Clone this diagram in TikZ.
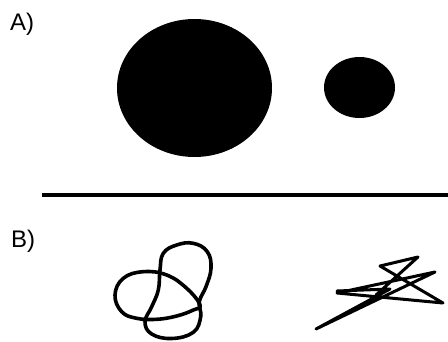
\documentclass[tikz,border=0pt]{standalone}
\usepackage{fontspec}
\setmainfont{Liberation Sans}
\usetikzlibrary{positioning}

\begin{document}
\begin{tikzpicture}[
    x=1pt, y=-1pt,
    panel/.style={anchor=base west, inner sep=0pt, font=\fontsize{24}{24}\selectfont},
    blob/.style={fill=black},
    squiggle/.style={draw=black, line width=3.6pt, line join=round, line cap=round},
    scribble/.style={draw=black, line width=3pt, line join=round, line cap=round}
]
    \useasboundingbox (0,0) rectangle (448,341);

    % panel A: two dots
    \node[panel] (labA) at (10,30) {A)};
    \fill[blob] (194.5,88) ellipse [x radius=77.5, y radius=69];
    \fill[blob] (359.5,87.5) ellipse [x radius=35.5, y radius=30.5];

    % divider
    \draw[line width=4.5pt] (42,195) -- (448,195);

    % panel B: loops and zigzag
    \node[panel] (labB) at (11,247) {B)};
    \draw[squiggle] plot[smooth cycle, tension=0.7] coordinates {
        (160,270) (163.3,253.3) (176.7,245) (193.3,243.3) (207.3,251.7)
        (211,268.3) (206,286.7) (199.3,301.7) (200.7,316.7) (193.3,332.3)
        (171.7,338.5) (151.7,334) (145,321.7) (151.7,306.7) (158.3,290)};
    \draw[squiggle] plot[smooth cycle, tension=0.7] coordinates {
        (200,305) (186.7,288.3) (166.7,275) (143.3,271.7) (123.3,278.3)
        (115,295) (121.7,311.7) (136.7,318.3) (156.7,319.3) (176.7,316)
        (193.3,310)};

    \draw[scribble] (337,291) -- (390,289) -- (316,329) -- (435,272)
        -- (337,293) -- (443,303) -- (380,266) -- (418,257) -- (376,295);
\end{tikzpicture}
\end{document}
